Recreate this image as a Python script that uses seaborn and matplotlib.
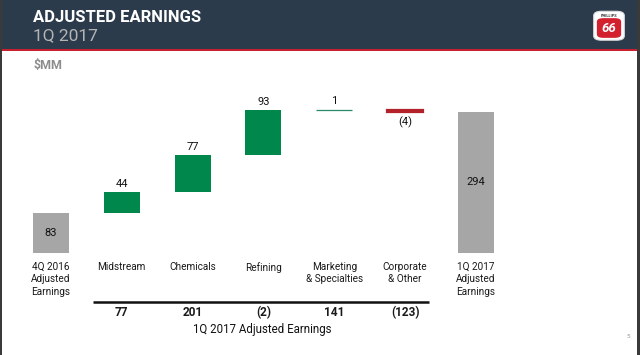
import matplotlib
matplotlib.use("Agg")
import matplotlib.pyplot as plt
from matplotlib.patches import Rectangle, FancyBboxPatch
import seaborn as sns
import pandas as pd

# ---- data ----
categories = ["4Q 2016\nAdjusted\nEarnings", "Midstream", "Chemicals", "Refining",
              "Marketing\n& Specialties", "Corporate\n& Other", "1Q 2017\nAdjusted\nEarnings"]
changes = [83, 44, 77, 93, 1, -4, 294]
kinds = ["total", "up", "up", "up", "up", "down", "total"]
bar_labels = ["83", "44", "77", "93", "1", "(4)", "294"]
segment_earnings = ["77", "201", "(2)", "141", "(123)"]
segment_title = "1Q 2017 Adjusted Earnings"

colors = ["#a6a6a6", "#00874b", "#00874b", "#00874b", "#2a8a68", "#b3222b", "#a6a6a6"]

# waterfall bottoms / heights
bottoms, heights = [], []
running = 0
for v, k in zip(changes, kinds):
    if k == "total":
        bottoms.append(0); heights.append(v); running = v
    elif v >= 0:
        bottoms.append(running); heights.append(v); running += v
    else:
        bottoms.append(running + v); heights.append(-v); running += v

df = pd.DataFrame({"cat": categories, "h": heights})

sns.set_theme(style="white")
FONT = ["Liberation Sans Narrow", "Roboto", "Liberation Sans", "DejaVu Sans"]
plt.rcParams["font.family"] = FONT

W, H = 640, 355
fig = plt.figure(figsize=(6.4, 3.55), dpi=100)
fig.patch.set_facecolor("white")

def fx(px):
    return px / W

def fy(py):
    return 1 - py / H

# ---- header ----
fig.patches.append(Rectangle((0, fy(48.5)), 1, 48.5 / H, transform=fig.transFigure,
                             facecolor="#2b3b4b", edgecolor="none", zorder=0))
fig.patches.append(Rectangle((0, fy(50.5)), 1, 2.0 / H, transform=fig.transFigure,
                             facecolor="#c8202f", edgecolor="none", zorder=0))
# borders
fig.patches.append(Rectangle((0, 0), fx(2), 1, transform=fig.transFigure,
                             facecolor="#3a3a3a", edgecolor="none", zorder=5))
fig.patches.append(Rectangle((fx(637), 0), fx(3), 1, transform=fig.transFigure,
                             facecolor="#3a3a3a", edgecolor="none", zorder=5))

fig.text(fx(33), fy(18), "ADJUSTED EARNINGS", color="white", fontsize=12,
         fontweight="bold", va="center", ha="left", family=FONT)
fig.text(fx(33), fy(35.5), "1Q 2017", color="#b4b4b4", fontsize=12.5,
         va="center", ha="left", family=FONT)
fig.text(fx(33), fy(66), "$MM", color="#8c8c8c", fontsize=9, fontweight="bold",
         va="center", ha="left", family=FONT)

# logo (shield)
fig.patches.append(FancyBboxPatch((fx(595), fy(39.5)), fx(28), 27.5 / H,
                                  boxstyle="round,pad=0.002,rounding_size=0.012",
                                  transform=fig.transFigure, facecolor="white",
                                  edgecolor="#dddddd", lw=0.8, zorder=3))
fig.patches.append(FancyBboxPatch((fx(597.5), fy(37.5)), fx(23), 19 / H,
                                  boxstyle="round,pad=0.001,rounding_size=0.01",
                                  transform=fig.transFigure, facecolor="#d2202f",
                                  edgecolor="none", zorder=4))
fig.text(fx(609), fy(16), "PHILLIPS", color="#333333", fontsize=2.8,
         ha="center", va="center", fontweight="bold", zorder=6)
fig.text(fx(609), fy(28.5), "66", color="white", fontsize=9.5, ha="center",
         va="center", fontweight="bold", style="italic", zorder=6)

# ---- chart axes spanning figure ----
ax = fig.add_axes([0, 0, 1, 1])
ax.set_facecolor("none")
ax.patch.set_alpha(0)
sns.barplot(data=df, x="cat", y="h", hue="cat", palette=colors, dodge=False,
            legend=False, width=0.51, ax=ax, saturation=1, zorder=2)

BASE_PY = 253.0
PX_PER_UNIT = 0.48
X0_PX, STEP_PX = 51.0, 70.8

def ydata(py):
    return (BASE_PY - py) / PX_PER_UNIT

ax.set_xlim(-X0_PX / STEP_PX, (W - X0_PX) / STEP_PX)
ax.set_ylim(ydata(H), ydata(0))
ax.axis("off")

for p in ax.patches:
    i = int(round(p.get_x() + p.get_width() / 2))
    p.set_y(bottoms[i])
    p.set_height(heights[i])
    if heights[i] < 6:
        p.set_edgecolor(colors[i])
        p.set_linewidth(1.6 if kinds[i] == "down" else 0.9)
    else:
        p.set_edgecolor("none")

# value labels
for i, (lab, k) in enumerate(zip(bar_labels, kinds)):
    if k == "total":
        ax.text(i, bottoms[i] + heights[i] / 2, lab, ha="center", va="center",
                fontsize=8, color="#111111")
    elif k == "up":
        ax.annotate(lab, (i, bottoms[i] + heights[i]), xytext=(0, 2.5),
                    textcoords="offset points", ha="center", va="bottom",
                    fontsize=8, color="#111111")
    else:
        ax.annotate(lab, (i, bottoms[i]), xytext=(0, -3),
                    textcoords="offset points", ha="center", va="top",
                    fontsize=8, color="#111111")

# category labels
for i, c in enumerate(categories):
    ax.text(i, ydata(262), c, ha="center", va="top", fontsize=7.2,
            color="#1a1a1a", linespacing=1.3)

# separator line and segment earnings
ax.plot([(93 - X0_PX) / STEP_PX, (429 - X0_PX) / STEP_PX], [ydata(302), ydata(302)],
        color="#111111", lw=1.8, solid_capstyle="butt")
for j, s in enumerate(segment_earnings):
    ax.text(j + 1, ydata(312.5), s, ha="center", va="center", fontsize=8.5,
            fontweight="bold", color="#1a1a1a")
ax.text((262 - X0_PX) / STEP_PX, ydata(330), segment_title, ha="center", va="center",
        fontsize=8.3, color="#111111")

fig.text(fx(628), fy(337), "5", fontsize=4.5, color="#999999", ha="center", va="center")

fig.savefig("out.png", dpi=100)
